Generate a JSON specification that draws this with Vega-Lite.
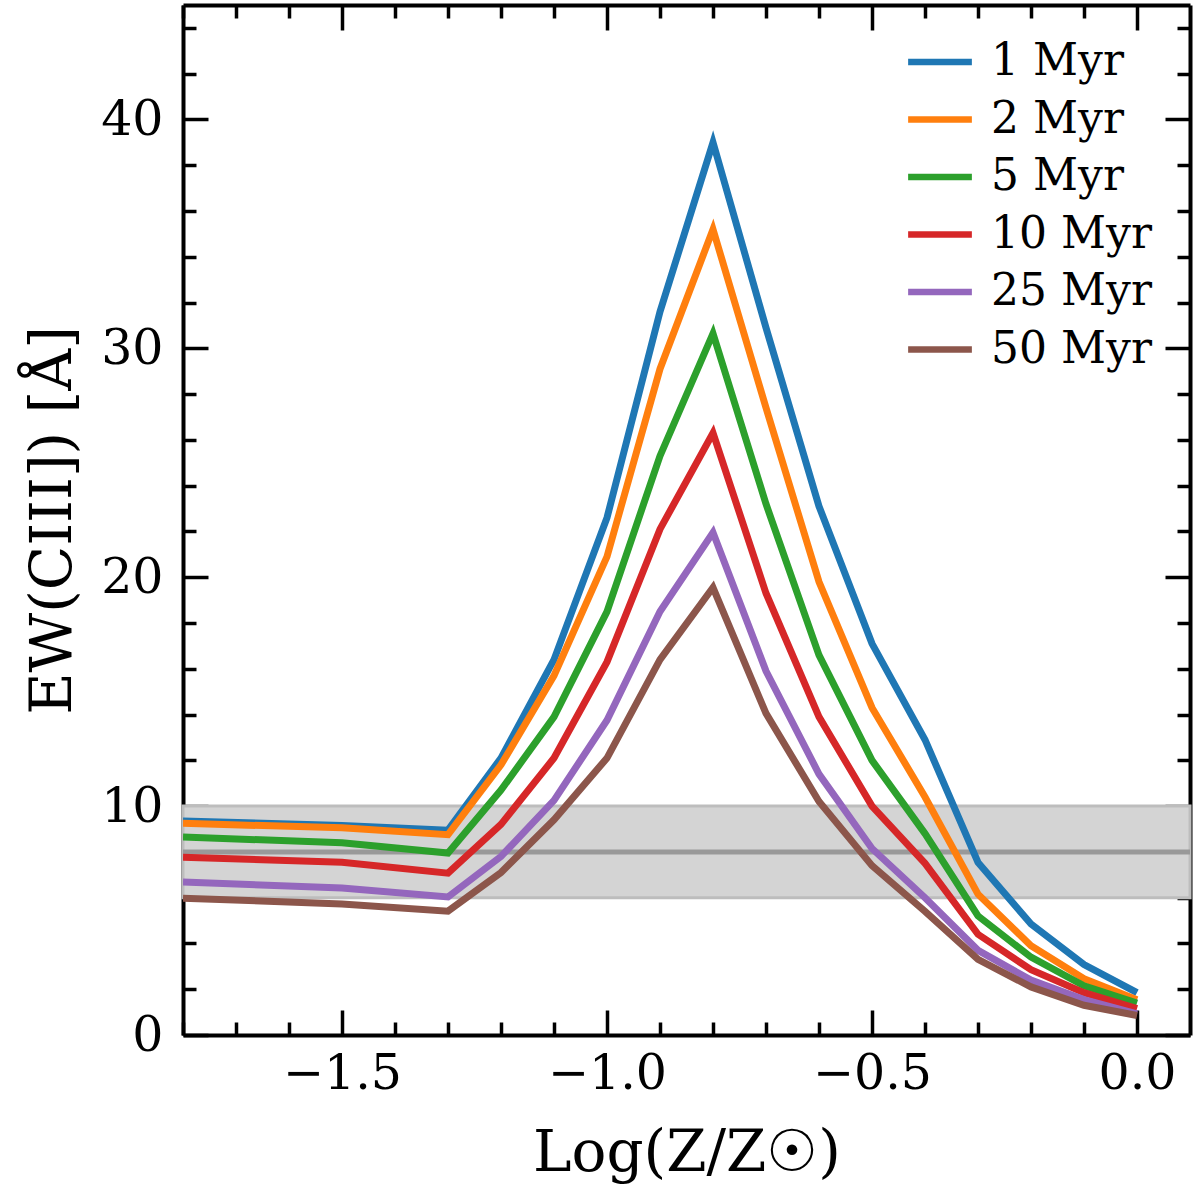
{
  "$schema": "https://vega.github.io/schema/vega-lite/v6.json",
  "width": 1007,
  "height": 1030,
  "autosize": {"type": "none"},
  "padding": {"left": 183, "top": 5, "right": 10, "bottom": 156},
  "background": "white",
  "config": {
    "view": {"stroke": null},
    "font": "DejaVu Serif",
    "axis": {
      "domainColor": "black",
      "domainWidth": 4,
      "tickColor": "black",
      "tickWidth": 3.5,
      "grid": false,
      "labelFont": "DejaVu Serif",
      "labelFontSize": 49,
      "labelColor": "black",
      "labelOverlap": false,
      "labelFlush": false,
      "titleFont": "DejaVu Serif",
      "titleFontSize": 58,
      "titleFontWeight": "normal",
      "titleColor": "black"
    }
  },
  "datasets": {
    "band": [{"lo": 6, "hi": 10, "mid": 8}],
    "curves": [
      {"age": "1 Myr", "logZ": -1.8, "ew": 9.35},
      {"age": "1 Myr", "logZ": -1.5, "ew": 9.15},
      {"age": "1 Myr", "logZ": -1.3, "ew": 8.95},
      {"age": "1 Myr", "logZ": -1.2, "ew": 12.1},
      {"age": "1 Myr", "logZ": -1.1, "ew": 16.4},
      {"age": "1 Myr", "logZ": -1.0, "ew": 22.6},
      {"age": "1 Myr", "logZ": -0.9, "ew": 31.6},
      {"age": "1 Myr", "logZ": -0.8, "ew": 39.0},
      {"age": "1 Myr", "logZ": -0.7, "ew": 30.9},
      {"age": "1 Myr", "logZ": -0.6, "ew": 23.1},
      {"age": "1 Myr", "logZ": -0.5, "ew": 17.1},
      {"age": "1 Myr", "logZ": -0.4, "ew": 12.9},
      {"age": "1 Myr", "logZ": -0.3, "ew": 7.54},
      {"age": "1 Myr", "logZ": -0.2, "ew": 4.85},
      {"age": "1 Myr", "logZ": -0.1, "ew": 3.08},
      {"age": "1 Myr", "logZ": 0.0, "ew": 1.85},
      {"age": "2 Myr", "logZ": -1.8, "ew": 9.25},
      {"age": "2 Myr", "logZ": -1.5, "ew": 9.05},
      {"age": "2 Myr", "logZ": -1.3, "ew": 8.75},
      {"age": "2 Myr", "logZ": -1.2, "ew": 11.8},
      {"age": "2 Myr", "logZ": -1.1, "ew": 15.7},
      {"age": "2 Myr", "logZ": -1.0, "ew": 20.9},
      {"age": "2 Myr", "logZ": -0.9, "ew": 29.1},
      {"age": "2 Myr", "logZ": -0.8, "ew": 35.2},
      {"age": "2 Myr", "logZ": -0.7, "ew": 27.4},
      {"age": "2 Myr", "logZ": -0.6, "ew": 19.8},
      {"age": "2 Myr", "logZ": -0.5, "ew": 14.3},
      {"age": "2 Myr", "logZ": -0.4, "ew": 10.4},
      {"age": "2 Myr", "logZ": -0.3, "ew": 6.15},
      {"age": "2 Myr", "logZ": -0.2, "ew": 3.9},
      {"age": "2 Myr", "logZ": -0.1, "ew": 2.46},
      {"age": "2 Myr", "logZ": 0.0, "ew": 1.54},
      {"age": "5 Myr", "logZ": -1.8, "ew": 8.65},
      {"age": "5 Myr", "logZ": -1.5, "ew": 8.4},
      {"age": "5 Myr", "logZ": -1.3, "ew": 7.95},
      {"age": "5 Myr", "logZ": -1.2, "ew": 10.7},
      {"age": "5 Myr", "logZ": -1.1, "ew": 13.9},
      {"age": "5 Myr", "logZ": -1.0, "ew": 18.5},
      {"age": "5 Myr", "logZ": -0.9, "ew": 25.3},
      {"age": "5 Myr", "logZ": -0.8, "ew": 30.65},
      {"age": "5 Myr", "logZ": -0.7, "ew": 23.2},
      {"age": "5 Myr", "logZ": -0.6, "ew": 16.6},
      {"age": "5 Myr", "logZ": -0.5, "ew": 12.0},
      {"age": "5 Myr", "logZ": -0.4, "ew": 8.8},
      {"age": "5 Myr", "logZ": -0.3, "ew": 5.2},
      {"age": "5 Myr", "logZ": -0.2, "ew": 3.4},
      {"age": "5 Myr", "logZ": -0.1, "ew": 2.15},
      {"age": "5 Myr", "logZ": 0.0, "ew": 1.4},
      {"age": "10 Myr", "logZ": -1.8, "ew": 7.77},
      {"age": "10 Myr", "logZ": -1.5, "ew": 7.55},
      {"age": "10 Myr", "logZ": -1.3, "ew": 7.07},
      {"age": "10 Myr", "logZ": -1.2, "ew": 9.2},
      {"age": "10 Myr", "logZ": -1.1, "ew": 12.1},
      {"age": "10 Myr", "logZ": -1.0, "ew": 16.3},
      {"age": "10 Myr", "logZ": -0.9, "ew": 22.1},
      {"age": "10 Myr", "logZ": -0.8, "ew": 26.3},
      {"age": "10 Myr", "logZ": -0.7, "ew": 19.3},
      {"age": "10 Myr", "logZ": -0.6, "ew": 13.9},
      {"age": "10 Myr", "logZ": -0.5, "ew": 10.0},
      {"age": "10 Myr", "logZ": -0.4, "ew": 7.5},
      {"age": "10 Myr", "logZ": -0.3, "ew": 4.4},
      {"age": "10 Myr", "logZ": -0.2, "ew": 2.85},
      {"age": "10 Myr", "logZ": -0.1, "ew": 1.85},
      {"age": "10 Myr", "logZ": 0.0, "ew": 1.15},
      {"age": "25 Myr", "logZ": -1.8, "ew": 6.68},
      {"age": "25 Myr", "logZ": -1.5, "ew": 6.42},
      {"age": "25 Myr", "logZ": -1.3, "ew": 6.03},
      {"age": "25 Myr", "logZ": -1.2, "ew": 7.8},
      {"age": "25 Myr", "logZ": -1.1, "ew": 10.25},
      {"age": "25 Myr", "logZ": -1.0, "ew": 13.75},
      {"age": "25 Myr", "logZ": -0.9, "ew": 18.5},
      {"age": "25 Myr", "logZ": -0.8, "ew": 21.95},
      {"age": "25 Myr", "logZ": -0.7, "ew": 15.9},
      {"age": "25 Myr", "logZ": -0.6, "ew": 11.4},
      {"age": "25 Myr", "logZ": -0.5, "ew": 8.15},
      {"age": "25 Myr", "logZ": -0.4, "ew": 6.0},
      {"age": "25 Myr", "logZ": -0.3, "ew": 3.7},
      {"age": "25 Myr", "logZ": -0.2, "ew": 2.4},
      {"age": "25 Myr", "logZ": -0.1, "ew": 1.55},
      {"age": "25 Myr", "logZ": 0.0, "ew": 0.92},
      {"age": "50 Myr", "logZ": -1.8, "ew": 5.98},
      {"age": "50 Myr", "logZ": -1.5, "ew": 5.72},
      {"age": "50 Myr", "logZ": -1.3, "ew": 5.41},
      {"age": "50 Myr", "logZ": -1.2, "ew": 7.1},
      {"age": "50 Myr", "logZ": -1.1, "ew": 9.4},
      {"age": "50 Myr", "logZ": -1.0, "ew": 12.1},
      {"age": "50 Myr", "logZ": -0.9, "ew": 16.4},
      {"age": "50 Myr", "logZ": -0.8, "ew": 19.55},
      {"age": "50 Myr", "logZ": -0.7, "ew": 14.05},
      {"age": "50 Myr", "logZ": -0.6, "ew": 10.2},
      {"age": "50 Myr", "logZ": -0.5, "ew": 7.4},
      {"age": "50 Myr", "logZ": -0.4, "ew": 5.4},
      {"age": "50 Myr", "logZ": -0.3, "ew": 3.3},
      {"age": "50 Myr", "logZ": -0.2, "ew": 2.1},
      {"age": "50 Myr", "logZ": -0.1, "ew": 1.3},
      {"age": "50 Myr", "logZ": 0.0, "ew": 0.85}
    ]
  },
  "layer": [
    {
      "data": {"name": "band"},
      "mark": {"type": "rect", "fill": "#d4d4d4", "stroke": "#bdbdbd", "strokeWidth": 3},
      "encoding": {
        "x": {
          "datum": -1.8,
          "type": "quantitative",
          "scale": {"domain": [-1.8, 0.1], "nice": false, "zero": false},
          "axis": {
            "orient": "bottom",
            "values": [-1.8, -1.7, -1.6, -1.5, -1.4, -1.3, -1.2, -1.1, -1.0, -0.9, -0.8, -0.7, -0.6, -0.5, -0.4, -0.3, -0.2, -0.1, 0.0],
            "tickSize": {"condition": {"test": "abs(datum.value*2 - round(datum.value*2)) < 0.001", "value": -25}, "value": -13},
            "labelExpr": "abs(datum.value*2 - round(datum.value*2)) < 0.001 ? format(datum.value, '.1f') : ''",
            "labelPadding": 39,
            "title": "Log(Z/Z☉)",
            "titlePadding": 14
          }
        },
        "x2": {"datum": 0.1},
        "y": {
          "field": "lo",
          "type": "quantitative",
          "scale": {"domain": [0, 45], "nice": false, "zero": false},
          "axis": {
            "orient": "left",
            "values": [0, 2, 4, 6, 8, 10, 12, 14, 16, 18, 20, 22, 24, 26, 28, 30, 32, 34, 36, 38, 40, 42, 44],
            "tickSize": {"condition": {"test": "datum.value % 10 === 0", "value": -25}, "value": -13},
            "labelExpr": "datum.value % 10 === 0 ? datum.label : ''",
            "labelPadding": 45,
            "title": "EW(CIII]) [Å]",
            "titlePadding": 18
          }
        },
        "y2": {"field": "hi"}
      }
    },
    {
      "data": {"name": "band"},
      "mark": {"type": "rule", "stroke": "#999999", "strokeWidth": 5},
      "encoding": {
        "y": {
          "field": "mid",
          "type": "quantitative",
          "axis": {
            "orient": "right",
            "values": [0, 2, 4, 6, 8, 10, 12, 14, 16, 18, 20, 22, 24, 26, 28, 30, 32, 34, 36, 38, 40, 42, 44],
            "tickSize": {"condition": {"test": "datum.value % 10 === 0", "value": -25}, "value": -13},
            "labels": false,
            "title": null
          }
        }
      }
    },
    {
      "data": {"name": "curves"},
      "mark": {"type": "line", "strokeWidth": 7, "clip": true, "strokeJoin": "miter"},
      "encoding": {
        "x": {
          "field": "logZ",
          "type": "quantitative",
          "axis": {
            "orient": "top",
            "values": [-1.8, -1.7, -1.6, -1.5, -1.4, -1.3, -1.2, -1.1, -1.0, -0.9, -0.8, -0.7, -0.6, -0.5, -0.4, -0.3, -0.2, -0.1, 0.0],
            "tickSize": {"condition": {"test": "abs(datum.value*2 - round(datum.value*2)) < 0.001", "value": -25}, "value": -13},
            "labels": false,
            "title": null
          }
        },
        "y": {"field": "ew", "type": "quantitative", "axis": null},
        "color": {
          "field": "age",
          "type": "nominal",
          "sort": ["1 Myr", "2 Myr", "5 Myr", "10 Myr", "25 Myr", "50 Myr"],
          "scale": {
            "domain": ["1 Myr", "2 Myr", "5 Myr", "10 Myr", "25 Myr", "50 Myr"],
            "range": ["#1f77b4", "#ff7f0e", "#2ca02c", "#d62728", "#9467bd", "#8c564b"]
          },
          "legend": {
            "orient": "none",
            "legendX": 728,
            "legendY": 28,
            "title": null,
            "padding": 0,
            "symbolType": "M-1.25,0H1.25",
            "symbolSize": 2601,
            "symbolStrokeWidth": 6.5,
            "labelFont": "DejaVu Serif",
            "labelFontSize": 44,
            "labelColor": "black",
            "labelOffset": 22,
            "labelLimit": 400,
            "rowPadding": 6.5
          }
        }
      }
    }
  ],
  "resolve": {"axis": {"x": "independent", "y": "independent"}}
}
